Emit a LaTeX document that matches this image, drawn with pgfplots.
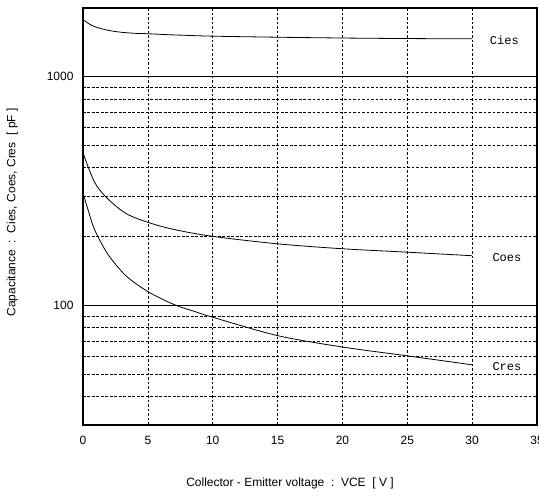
\documentclass[border=0pt]{standalone}
\usepackage{fontspec}
\setmainfont{Liberation Sans}
\newfontfamily\monofont{Liberation Mono}
\usepackage{pgfplots}
\pgfplotsset{compat=1.18}

\begin{document}
\begin{tikzpicture}
\begin{axis}[
    scale only axis,
    width=454bp, height=417bp,
    xmin=0, xmax=35,
    ymode=log, ymin=30, ymax=2000,
    xtick={0,5,...,35},
    minor xtick={5,10,...,30},
    ytick={100,1000},
    yticklabels={100,1000},
    minor ytick={40,50,60,70,80,90,200,300,400,500,600,700,800,900},
    xmajorgrids=false, xminorgrids=true,
    ymajorgrids=true, yminorgrids=true,
    major grid style={solid, black, line width=0.9bp},
    minor grid style={black, line width=0.7bp, dash pattern=on 2.6bp off 1.9bp},
    major tick length=0pt, minor tick length=0pt,
    axis line style={black, line width=1.3bp},
    /pgf/number format/assume math mode=true,
    tick label style={font=\fontsize{12bp}{14bp}\selectfont},
    xticklabel style={yshift=-8bp},
    yticklabel style={xshift=-6bp},
    label style={font=\fontsize{12bp}{14bp}\selectfont},
    xlabel={Collector - Emitter voltage\ \ :\ \ VCE\ \ [ V ]},
    ylabel={Capacitance\ \ :\ \ Cies, Coes, Cres\ \ [ pF ]},
    xlabel style={at={(axis description cs:0.456,-0.139)}, anchor=center},
    ylabel style={at={(axis description cs:-0.156,0.51)}, anchor=center},
  ]
  % Cies
  \addplot[black, no markers, line width=0.8bp, smooth, tension=0.5] coordinates {
    (0,1782) (0.5,1700) (1,1650) (2,1595) (3,1565) (4,1550) (5,1543)
    (7,1525) (10,1506) (15,1490) (20,1478) (25,1470) (30,1466)
  };
  % Coes
  \addplot[black, no markers, line width=0.8bp, smooth, tension=0.5] coordinates {
    (0,465) (0.9,345) (1.93,292) (3.34,252) (5,231) (7,215)
    (10,200.5) (15,186) (20,177) (25,171) (30,165)
  };
  % Cres
  \addplot[black, no markers, line width=0.8bp, smooth, tension=0.5] coordinates {
    (0,310) (0.5,250) (0.9,214) (1.9,168) (3.3,135) (5,115) (7,101)
    (8.5,94.5) (10,88.8) (15,73.8) (20,65.8) (25,60.2) (30,55)
  };
  \node[anchor=west, font=\monofont\fontsize{12bp}{14bp}\selectfont] at (axis cs:31.1,1445) {Cies};
  \node[anchor=west, font=\monofont\fontsize{12bp}{14bp}\selectfont] at (axis cs:31.3,162) {Coes};
  \node[anchor=west, font=\monofont\fontsize{12bp}{14bp}\selectfont] at (axis cs:31.3,54) {Cres};
\end{axis}
\pgfresetboundingbox
\path[use as bounding box] (-83bp,-74bp) rectangle (456bp,425bp);
\end{tikzpicture}
\end{document}
